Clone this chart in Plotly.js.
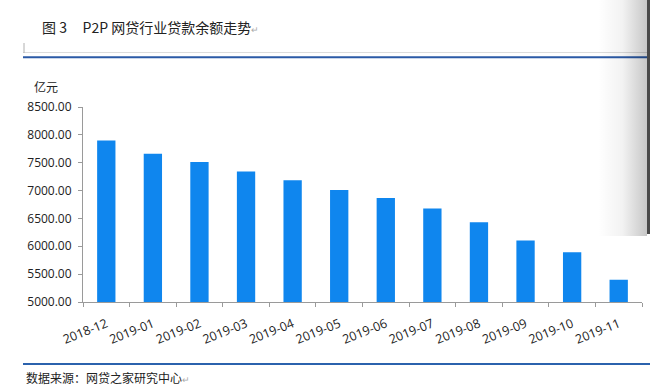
<!DOCTYPE html>
<html>
<head>
<meta charset="utf-8">
<script src="https://cdn.plot.ly/plotly-3.0.1.min.js"></script>
<style>
  html, body { margin: 0; padding: 0; background: #fff; }
  #wrap { position: relative; width: 650px; height: 387px; overflow: hidden; }
  #chart { width: 650px; height: 387px; }
  #shade { position: absolute; left: 598px; top: 0; width: 49px; height: 236px;
           background: linear-gradient(to right, rgba(0,0,0,0), rgba(0,0,0,0.05) 50%, rgba(0,0,0,0.22)); pointer-events: none; }
  #bar { position: absolute; left: 647px; top: 0; width: 3px; height: 234px; background: #4a4a4a; pointer-events: none; }
</style>
</head>
<body>
<div id="wrap">
  <div id="chart"></div>
  <div id="shade"></div>
  <div id="bar"></div>
</div>
<script>
// Data
const months = ['2018-12','2019-01','2019-02','2019-03','2019-04','2019-05',
                '2019-06','2019-07','2019-08','2019-09','2019-10','2019-11'];
const balance = [7898, 7659, 7515, 7341, 7186, 7012, 6868, 6676, 6431, 6102, 5892, 5401];
const yTicks = [5000, 5500, 6000, 6500, 7000, 7500, 8000, 8500];

const titleText = '图 3\u00a0\u00a0\u00a0\u00a0\u00a0P2P 网贷行业贷款余额走势';
const unitText = '亿元';
const sourceText = '数据来源：网贷之家研究中心';

// Layout geometry (pixels)
const W = 650, H = 387, ML = 83, MR = 8, MT = 107, MB = 85;
const PW = W - ML - MR, PH = H - MT - MB;
const px = x => (x - ML) / PW;
const py = y => (H - MB - y) / PH;

const cjk = '"Noto Sans CJK SC", "Noto Sans", sans-serif';
const num = '"Open Sans", "Liberation Sans", sans-serif';

const trace = {
  type: 'bar',
  x: months,
  y: balance,
  marker: { color: '#0f86ee', line: { width: 0 } },
  hoverinfo: 'skip'
};

const layout = {
  width: W, height: H,
  margin: { l: ML, r: MR, t: MT, b: MB, pad: 0 },
  paper_bgcolor: '#ffffff',
  plot_bgcolor: '#ffffff',
  showlegend: false,
  bargap: 0.607,
  font: { family: num, size: 12, color: '#222' },
  xaxis: {
    type: 'category',
    tickson: 'boundaries',
    ticks: 'outside', ticklen: 4, tickcolor: '#9a9a9a', tickwidth: 1,
    showline: true, linecolor: '#9a9a9a', linewidth: 1,
    showgrid: false, zeroline: false,
    tickangle: -22,
    ticklabelstandoff: 9,
    tickfont: { family: num, size: 12.5, color: '#222' }
  },
  yaxis: {
    range: [5000, 8500],
    tickvals: yTicks,
    tickformat: '.2f',
    ticks: 'outside', ticklen: 4, tickcolor: '#9a9a9a', tickwidth: 1,
    showline: true, linecolor: '#9a9a9a', linewidth: 1,
    showgrid: false, zeroline: false,
    ticklabelstandoff: 4,
    tickfont: { family: num, size: 12, color: '#222' }
  },
  annotations: [
    { xref: 'paper', yref: 'paper', x: px(40), y: py(27), xanchor: 'left', yanchor: 'middle',
      showarrow: false, text: titleText + '<span style="color:#aaa;font-size:9px">↵</span>',
      font: { family: cjk, size: 14, color: '#222' } },
    { xref: 'paper', yref: 'paper', x: px(32), y: py(87), xanchor: 'left', yanchor: 'middle',
      showarrow: false, text: unitText,
      font: { family: cjk, size: 12, color: '#222' } },
    { xref: 'paper', yref: 'paper', x: px(24), y: py(377), xanchor: 'left', yanchor: 'middle',
      showarrow: false, text: sourceText + '<span style="color:#aaa;font-size:9px">↵</span>',
      font: { family: cjk, size: 12, color: '#222' } }
  ],
  shapes: [
    { type: 'line', xref: 'paper', yref: 'paper', x0: px(23), x1: px(650), y0: py(52.5), y1: py(52.5),
      line: { color: '#dcdcdc', width: 1 } },
    { type: 'line', xref: 'paper', yref: 'paper', x0: px(24), x1: px(24), y0: py(43), y1: py(53),
      line: { color: '#b0b0b0', width: 1 } },
    { type: 'line', xref: 'paper', yref: 'paper', x0: px(23), x1: px(650), y0: py(57.3), y1: py(57.3),
      line: { color: '#2b5aa6', width: 2 } },
    { type: 'line', xref: 'paper', yref: 'paper', x0: px(23), x1: px(650), y0: py(364), y1: py(364),
      line: { color: '#2b62ad', width: 2 } }
  ]
};

Plotly.newPlot('chart', [trace], layout, { staticPlot: true, displayModeBar: false });
</script>
</body>
</html>
